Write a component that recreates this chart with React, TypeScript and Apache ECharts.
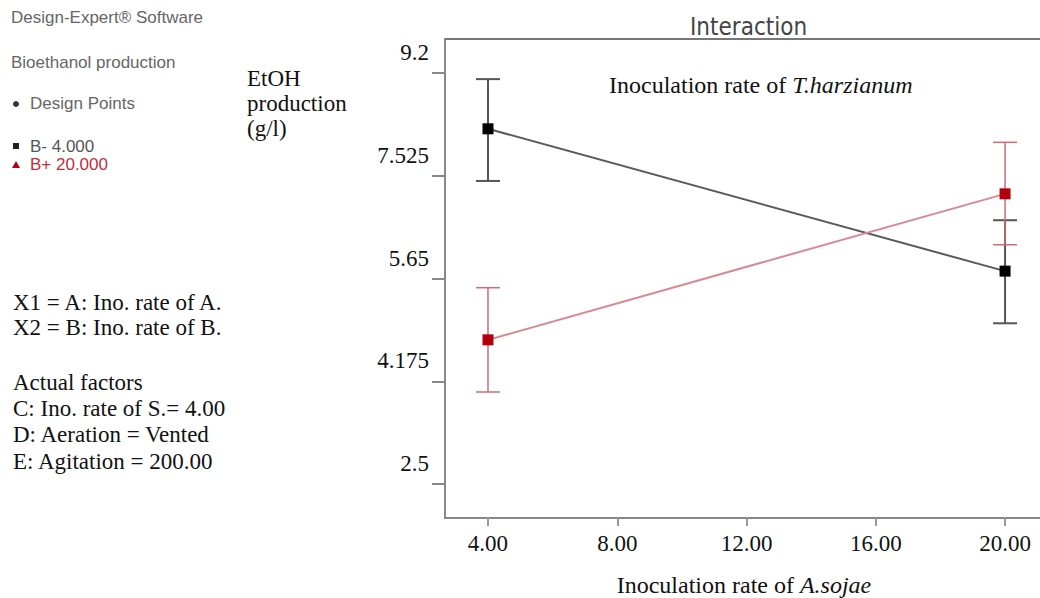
import React, { useEffect, useRef } from "react";
import * as echarts from "echarts";

// ---- data ----
const xLevels = [4, 20];
const bMinusMeans = [8.29, 5.97];
const bMinusLow = [7.44, 5.12];
const bMinusHigh = [9.1, 6.8];
const bPlusMeans = [4.85, 7.23];
const bPlusLow = [4.0, 6.4];
const bPlusHigh = [5.7, 8.07];

const xTickValues = [4, 8, 12, 16, 20];
const yTickValues = [2.5, 4.175, 5.85, 7.525, 9.2];
const yTickLabels = ["2.5", "4.175", "5.65", "7.525", "9.2"];

const X_MIN = 2.67;
const X_MAX = 21.7;
const Y_MIN = 1.946;
const Y_MAX = 9.754;

const SERIF = "'Liberation Serif', 'Times New Roman', serif";
const SANS = "'Liberation Sans', Arial, sans-serif";

function pairs(xs: number[], ys: number[]) {
  return xs.map((x, i) => [x, ys[i]]);
}

function errorBars(name: string, low: number[], high: number[], color: string, width: number) {
  return {
    type: "custom",
    name,
    data: xLevels.map((x, i) => [x, low[i], high[i]]),
    z: 3,
    renderItem: (_params: any, api: any) => {
      const x = api.value(0);
      const lo = api.coord([x, api.value(1)]);
      const hi = api.coord([x, api.value(2)]);
      const half = 12;
      const style = { stroke: color, lineWidth: width, fill: "none" };
      return {
        type: "group",
        children: [
          { type: "line", shape: { x1: lo[0], y1: lo[1], x2: hi[0], y2: hi[1] }, style },
          { type: "line", shape: { x1: lo[0] - half, y1: lo[1], x2: lo[0] + half, y2: lo[1] }, style },
          { type: "line", shape: { x1: hi[0] - half, y1: hi[1], x2: hi[0] + half, y2: hi[1] }, style },
        ],
      };
    },
  };
}

export default function App() {
  const ref = useRef<HTMLDivElement>(null);
  useEffect(() => {
    if (!ref.current) return;
    const chart = echarts.init(ref.current, undefined, { renderer: "svg" });
    const leftSerif = (text: string, x: number, y: number) => ({
      type: "text",
      x,
      y,
      style: { text, font: `23px ${SERIF}`, fill: "#111", textVerticalAlign: "middle" },
    });
    const smallSans = (text: string, x: number, y: number, fill: string) => ({
      type: "text",
      x,
      y,
      style: { text, font: `17px ${SANS}`, fill, textVerticalAlign: "middle" },
    });
    chart.setOption({
      animation: false,
      backgroundColor: "#fff",
      title: {
        text: "Interaction",
        left: 685,
        top: 10,
        textStyle: {
          fontFamily: "'DejaVu Sans Condensed', 'DejaVu Sans', sans-serif",
          fontSize: 24,
          fontWeight: "normal",
          color: "#444",
        },
      },
      grid: {
        left: 445,
        top: 39,
        width: 615,
        bottom: 80,
        show: true,
        borderColor: "#777",
        borderWidth: 2,
        containLabel: false,
        outerBoundsMode: "none",
      },
      xAxis: {
        type: "value",
        min: X_MIN,
        max: X_MAX,
        splitLine: { show: false },
        axisLine: { show: true, lineStyle: { color: "#888", width: 2 } },
        axisTick: {
          show: true,
          length: 8,
          customValues: xTickValues,
          lineStyle: { color: "#999", width: 2 },
        },
        axisLabel: {
          customValues: xTickValues,
          formatter: (v: number) => v.toFixed(2),
          fontFamily: SERIF,
          fontSize: 23,
          color: "#111",
          margin: 14,
        },
      },
      yAxis: {
        type: "value",
        min: Y_MIN,
        max: Y_MAX,
        splitLine: { show: false },
        axisLine: { show: true, lineStyle: { color: "#888", width: 2 } },
        axisTick: {
          show: true,
          length: 13,
          customValues: yTickValues,
          lineStyle: { color: "#888", width: 2 },
        },
        axisLabel: {
          customValues: yTickValues,
          formatter: (v: number) => {
            let best = 0;
            yTickValues.forEach((t, i) => {
              if (Math.abs(t - v) < Math.abs(yTickValues[best] - v)) best = i;
            });
            return yTickLabels[best];
          },
          fontFamily: SERIF,
          fontSize: 23,
          color: "#111",
          margin: 16,
          verticalAlign: "bottom",
          padding: [0, 0, 9, 0],
        },
      },
      series: [
        errorBars("B- error", bMinusLow, bMinusHigh, "#555", 2),
        errorBars("B+ error", bPlusLow, bPlusHigh, "#cf6b74", 1.5),
        {
          type: "line",
          name: "B- 4.000",
          data: pairs(xLevels, bMinusMeans),
          symbol: "rect",
          symbolSize: 11,
          z: 4,
          lineStyle: { color: "#5a5a5a", width: 2 },
          itemStyle: { color: "#000" },
        },
        {
          type: "line",
          name: "B+ 20.000",
          data: pairs(xLevels, bPlusMeans),
          symbol: "rect",
          symbolSize: 11,
          z: 4,
          lineStyle: { color: "#d98a90", width: 2 },
          itemStyle: { color: "#b3000c" },
        },
      ],
      graphic: [
        smallSans("Design-Expert® Software", 11, 17, "#666"),
        smallSans("Bioethanol production", 11, 62, "#666"),
        { type: "circle", shape: { cx: 16, cy: 104, r: 3 }, style: { fill: "#333" } },
        smallSans("Design Points", 30, 103, "#666"),
        { type: "rect", shape: { x: 13, y: 143, width: 6, height: 6 }, style: { fill: "#222" } },
        smallSans("B- 4.000", 30, 146, "#555"),
        { type: "polygon", shape: { points: [[16, 161], [12, 168], [20, 168]] }, style: { fill: "#b3000c" } },
        smallSans("B+ 20.000", 30, 164, "#c0303a"),
        leftSerif("X1 = A: Ino. rate of A.", 13, 302),
        leftSerif("X2 = B: Ino. rate of B.", 13, 327),
        leftSerif("Actual factors", 13, 382),
        leftSerif("C: Ino. rate of S.= 4.00", 13, 408),
        leftSerif("D: Aeration = Vented", 13, 434),
        leftSerif("E: Agitation = 200.00", 13, 461),
        leftSerif("EtOH", 247, 78),
        leftSerif("production", 247, 103),
        leftSerif("(g/l)", 247, 128),
        {
          type: "text",
          x: 609,
          y: 85,
          style: {
            text: "Inoculation rate of {it|T.harzianum}",
            font: `24px ${SERIF}`,
            fill: "#111",
            textVerticalAlign: "middle",
            rich: { it: { fontStyle: "italic", fontFamily: SERIF, fontSize: 24, fill: "#111" } },
          },
        },
        {
          type: "text",
          x: 744,
          y: 585,
          style: {
            text: "Inoculation rate of {it|A.sojae}",
            font: `24px ${SERIF}`,
            fill: "#111",
            textAlign: "center",
            textVerticalAlign: "middle",
            rich: { it: { fontStyle: "italic", fontFamily: SERIF, fontSize: 24, fill: "#111" } },
          },
        },
      ],
    });
    return () => chart.dispose();
  }, []);
  return (
    <div
      ref={ref}
      style={{ position: "fixed", left: 0, top: 0, width: 1040, height: 598, background: "#fff" }}
    />
  );
}
